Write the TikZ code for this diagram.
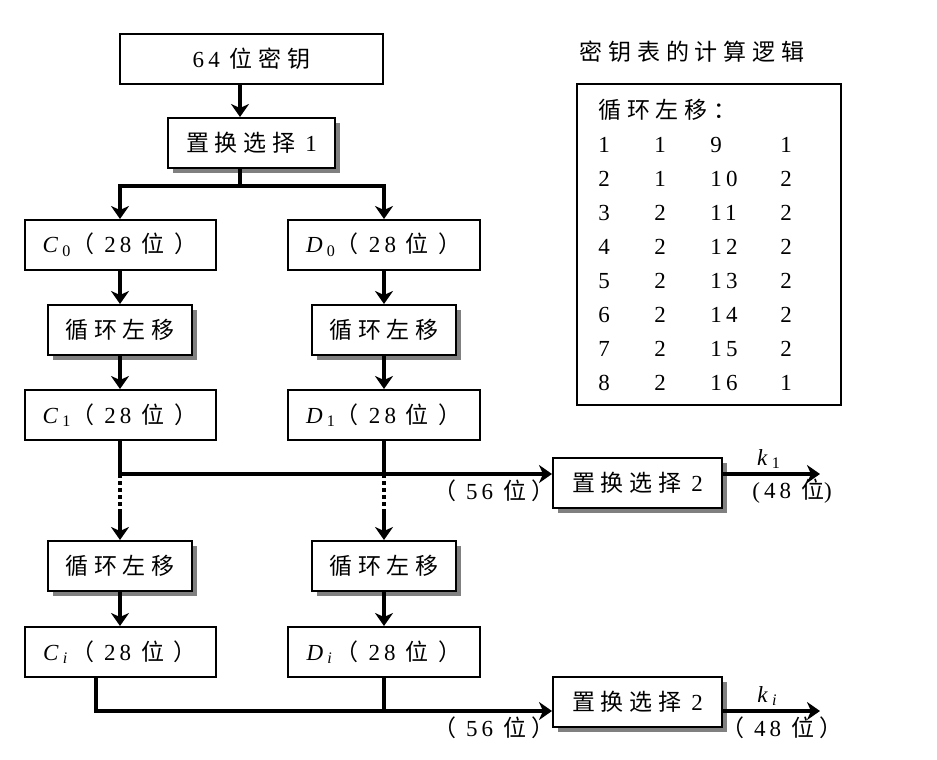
\documentclass[tikz,border=0pt]{standalone}
\usepackage{fontspec}
\setmainfont{Liberation Serif}[LetterSpace=18]
\newfontfamily\cjk{Noto Sans CJK SC}[LetterSpace=25]
\usetikzlibrary{arrows.meta,shadows,calc}
\newcommand\zh[1]{{\cjk #1}}

\begin{document}
\begin{tikzpicture}[x=0.5pt,y=-0.5pt,font=\fontsize{11.5}{13}\selectfont,
  box/.style={draw,line width=1pt,fill=white,inner sep=0pt,minimum height=25pt},
  shbox/.style={box,drop shadow={shadow xshift=2.5pt,shadow yshift=-2.5pt,fill=gray,opacity=1}},
  arr/.style={line width=2pt,-{Stealth[length=6.5pt,width=9pt,inset=2pt]}},
  line/.style={line width=2pt},
  cell/.style={anchor=west,inner sep=0pt}]
\useasboundingbox (0,0) rectangle (937,760);
% boxes
\node[box,minimum width=131.5pt] (key) at (251.5,58.5) {64 \zh{位密钥}};
\node[shbox,minimum width=83.5pt] (pc1) at (251.5,143) {\zh{置换选择} 1};
\node[box,minimum width=95.5pt] (c0) at (120,245) {\textit{C}\textsubscript{0}\zh{（} 28 \zh{位} \zh{）}};
\node[box,minimum width=96pt] (d0) at (384,245) {\textit{D}\textsubscript{0}\zh{（} 28 \zh{位} \zh{）}};
\node[shbox,minimum width=72pt] (lsc1) at (120,330) {\zh{循环左移}};
\node[shbox,minimum width=72pt] (lsd1) at (384,330) {\zh{循环左移}};
\node[box,minimum width=95.5pt] (c1) at (120,415) {\textit{C}\textsubscript{1}\zh{（} 28 \zh{位} \zh{）}};
\node[box,minimum width=96pt] (d1) at (384,415) {\textit{D}\textsubscript{1}\zh{（} 28 \zh{位} \zh{）}};
\node[shbox,minimum width=84.5pt] (pc2a) at (637.5,483) {\zh{置换选择} 2};
\node[shbox,minimum width=72pt] (lsci) at (120,566) {\zh{循环左移}};
\node[shbox,minimum width=72pt] (lsdi) at (384,566) {\zh{循环左移}};
\node[box,minimum width=95.5pt] (ci) at (120,652) {\textit{C}\textsubscript{\textit{i}}\zh{（} 28 \zh{位} \zh{）}};
\node[box,minimum width=96pt] (di) at (384,652) {\textit{D}\textsubscript{\textit{i}}\zh{（} 28 \zh{位} \zh{）}};
\node[shbox,minimum width=84.5pt] (pc2b) at (637.5,702) {\zh{置换选择} 2};
% key schedule table
\node at (692,52) {\zh{密钥表的计算逻辑}};
\node[box,minimum width=132pt,minimum height=160.5pt] (tab) at (709,244.5) {};
\node[cell] (tabhead) at (598,110) {\zh{循环左移：}};
\foreach \a/\b/\c/\d [count=\i from 0] in {1/1/9/1,2/1/10/2,3/2/11/2,4/2/12/2,5/2/13/2,6/2/14/2,7/2/15/2,8/2/16/1}{
  \node[cell] at (598,{145+34*\i}) {\a};
  \node[cell] at (654,{145+34*\i}) {\b};
  \node[cell] at (710,{145+34*\i}) {\c};
  \node[cell] at (780,{145+34*\i}) {\d};
}
% connectors
\coordinate (stem) at (240,0); \coordinate (fork) at (240,186);
\coordinate (join1) at (384,474); \coordinate (gapc) at (120,510); \coordinate (gapd) at (384,510);
\coordinate (join2) at (96,711); \coordinate (out1) at (820,474); \coordinate (out2) at (820,711);
\draw[arr] (key.south -| stem) -- (pc1.north -| stem);
\draw[line] (pc1.south -| fork) -- (fork);
\draw[arr] (fork) -| (c0.north);
\draw[arr] (fork) -| (d0.north);
\draw[arr] (c0) -- (lsc1);
\draw[arr] (d0) -- (lsd1);
\draw[arr] (lsc1) -- (c1);
\draw[arr] (lsd1) -- (d1);
\draw[arr] (c1.south) |- (pc2a.west |- join1);
\draw[line] (d1.south) -- (join1);
\draw[line,dash pattern=on 2pt off 1.5pt] (c1.south |- join1) -- (gapc);
\draw[line,dash pattern=on 2pt off 1.5pt] (join1) -- (gapd);
\draw[arr] (gapc) -- (lsci.north);
\draw[arr] (gapd) -- (lsdi.north);
\draw[arr] (lsci) -- (ci);
\draw[arr] (lsdi) -- (di);
\draw[arr] (join2 |- ci.south) -- (join2) -- (pc2b.west |- join2);
\draw[line] (di.south) -- (di.south |- join2);
\draw[arr] (pc2a.east |- out1) -- (out1);
\draw[arr] (pc2b.east |- out2) -- (out2);
% labels
\node at (494,491) {\zh{（} 56 \zh{位）}};
\node at (494,728) {\zh{（} 56 \zh{位）}};
\node at (769,459) {\textit{k}\textsubscript{1}};
\node at (769,696) {\textit{k}\textsubscript{\textit{i}}};
\node at (792,491) {(48 \zh{位})};
\node at (782,728) {\zh{（} 48 \zh{位）}};
\end{tikzpicture}
\end{document}
